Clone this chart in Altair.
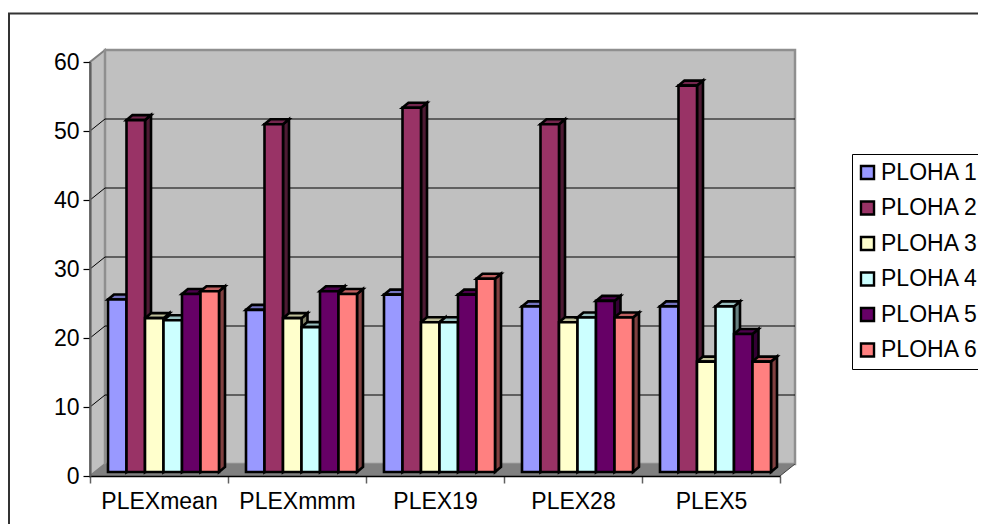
import altair as alt
import pandas as pd

categories = ["PLEXmean", "PLEXmmm", "PLEX19", "PLEX28", "PLEX5"]
series = ["PLOHA 1", "PLOHA 2", "PLOHA 3", "PLOHA 4", "PLOHA 5", "PLOHA 6"]
colors = ["#9999FF", "#993366", "#FFFFCC", "#CCFFFF", "#660066", "#FF8080"]
tops = ["#7373BF", "#73264D", "#BFBF99", "#99BFBF", "#4D004D", "#BF6060"]
sides = ["#4D4D80", "#4D1A33", "#808066", "#668080", "#330033", "#804040"]
values = {
    "PLOHA 1": [25.0, 23.5, 25.7, 24.0, 24.0],
    "PLOHA 2": [51.0, 50.4, 52.8, 50.4, 56.0],
    "PLOHA 3": [22.3, 22.3, 21.7, 21.7, 16.0],
    "PLOHA 4": [22.0, 21.0, 21.7, 22.4, 24.0],
    "PLOHA 5": [25.8, 26.2, 25.7, 24.8, 20.0],
    "PLOHA 6": [26.2, 25.8, 28.0, 22.4, 16.0],
}
y_ticks = [0, 10, 20, 30, 40, 50, 60]

PW, PH = 690, 414
ux, uy = 5 / PW, 60 / PH  # data units per pixel
wall_x, wall_y = 15 * ux, 12 * uy
bar_x0, bar_w, bar_base = 18 * ux, 18.5 * ux, 4 * uy
depth_x, depth_y = 6 * ux, 5 * uy

sx = alt.Scale(domain=[0, 5], nice=False, zero=False)
sy = alt.Scale(domain=[0, 60], nice=False, zero=False)

front, side, top = [], [], []
for s, name in enumerate(series):
    for c, cat in enumerate(categories):
        x0 = c + bar_x0 + s * bar_w
        x1 = x0 + bar_w
        v = values[name][c] + bar_base
        b = bar_base
        key = f"{s}-{c}"
        front.append(dict(series=name, x0=x0, x1=x1, v=v, b=b))
        side.append(dict(k=key, col=sides[s], x=x1, top=v, bot=b))
        side.append(dict(k=key, col=sides[s], x=x1 + depth_x, top=v + depth_y, bot=b + depth_y))
        top.append(dict(k=key, col=tops[s], y=v, xa=x0, xb=x1))
        top.append(dict(k=key, col=tops[s], y=v + depth_y, xa=x0 + depth_x, xb=x1 + depth_x))


def qx(f="x:Q"):
    return alt.X(f, scale=sx, title=None)


def qy(f="y:Q"):
    return alt.Y(f, scale=sy, title=None)


X, Y = qx(), qy()

# outer frame
frame = alt.Chart(pd.DataFrame({"a": [0]})).mark_rect(
    fill="white", stroke="#333333", strokeWidth=2
).encode(x=alt.value(-81), x2=alt.value(897.5), y=alt.value(-48.5), y2=alt.value(470))

# walls
left_wall = alt.Chart(pd.DataFrame({"x": [0, wall_x], "y": [0, wall_y], "y2": [60, 60 + wall_y]})).mark_area(
    fill="#C0C0C0", stroke="#808080", strokeWidth=2
).encode(x=X, y=Y, y2="y2:Q")
back = alt.Chart(pd.DataFrame({"x": [wall_x], "x2": [5 + wall_x], "y": [wall_y], "y2": [60 + wall_y]})).mark_rect(
    fill="#C0C0C0", stroke="#8F8F8F", strokeWidth=2.5
).encode(x=X, x2="x2:Q", y=Y, y2="y2:Q")
floor = alt.Chart(pd.DataFrame({"y": [0, wall_y], "x": [0, wall_x], "x2": [5, 5 + wall_x]})).mark_area(
    fill="#808080", orient="horizontal"
).encode(y=Y, x=X, x2="x2:Q")

# grid lines on back and left walls
grid_vals = y_ticks[1:-1]
grid_back = alt.Chart(pd.DataFrame({"y": [v + wall_y for v in grid_vals], "x": wall_x, "x2": 5 + wall_x})).mark_rule(
    color="black", strokeWidth=1.2
).encode(x=X, x2="x2:Q", y=Y)
grid_left = alt.Chart(pd.DataFrame({"y": grid_vals, "y2": [v + wall_y for v in grid_vals], "x": 0.0, "x2": wall_x})).mark_rule(
    color="black", strokeWidth=1
).encode(x=X, x2="x2:Q", y=Y, y2="y2:Q")
edge_right = alt.Chart(pd.DataFrame({"y": [0.0], "y2": [wall_y], "x": [5.0], "x2": [5 + wall_x]})).mark_rule(
    color="#404040", strokeWidth=1
).encode(x=X, x2="x2:Q", y=Y, y2="y2:Q")

# bars
side_layer = alt.Chart(pd.DataFrame(side)).mark_area(stroke="black", strokeWidth=2.6, strokeJoin="miter").encode(
    x=qx("x:Q"),
    y=qy("top:Q"),
    y2="bot:Q",
    fill=alt.Fill("col:N", scale=None),
    detail="k:N",
)
top_layer = alt.Chart(pd.DataFrame(top)).mark_area(stroke="black", strokeWidth=2.6, orient="horizontal", strokeJoin="miter").encode(
    y=qy("y:Q"),
    x=qx("xa:Q"),
    x2="xb:Q",
    fill=alt.Fill("col:N", scale=None),
    detail="k:N",
)
front_layer = alt.Chart(pd.DataFrame(front)).mark_rect(stroke="black", strokeWidth=2.6).encode(
    x=qx("x0:Q"),
    x2="x1:Q",
    y=qy("b:Q"),
    y2="v:Q",
    fill=alt.Fill(
        "series:N",
        scale=alt.Scale(domain=series, range=colors),
        legend=alt.Legend(
            title=None, orient="none", legendX=762, legendY=92, fillColor="white", strokeColor="#000000",
            padding=7, symbolType="square", symbolSize=170, symbolStrokeColor="black", symbolStrokeWidth=2.4,
            symbolOffset=-3, labelFont="Liberation Sans", labelFontSize=23, labelColor="black",
            rowPadding=11.5, labelOffset=2, labelLimit=200,
        ),
    ),
)

# axes
tick_vals = [i / 2 for i in range(11)]
label_js = "{" + ",".join(f"'{i + 0.5}':'{c}'" for i, c in enumerate(categories)) + "}"
axes = alt.Chart(pd.DataFrame({"x": [0.0, 5.0], "y": [0.0, 0.0]})).mark_point(opacity=0).encode(
    x=alt.X("x:Q", scale=sx, title=None, axis=alt.Axis(
        values=tick_vals, grid=False, domainColor="black", domainWidth=1.5, tickColor="#606060", tickWidth=1.5,
        tickSize=7, labelPadding=7, labelFont="Liberation Sans", labelFontSize=23, labelColor="black",
        labelFlush=False, labelOverlap=False, labelBound=False, zindex=1,
        tickOpacity={"condition": {"test": "datum.value % 1 === 0", "value": 1}, "value": 0},
        labelExpr=f"({label_js})[datum.value] || ''",
    )),
    y=alt.Y("y:Q", scale=sy, title=None, axis=alt.Axis(
        values=y_ticks, grid=False, domainColor="#606060", domainWidth=2.2, tickColor="black", tickWidth=1.2,
        tickSize=7, labelPadding=4, labelFont="Liberation Sans", labelFontSize=23, labelColor="black", zindex=1,
    )),
)

chart = alt.layer(
    frame, left_wall, back, floor, grid_left, grid_back, edge_right,
    side_layer, top_layer, front_layer, axes,
).properties(
    width=PW, height=PH,
    padding={"left": 82, "top": 54, "right": 198, "bottom": 48},
    autosize=alt.AutoSizeParams(type="none"),
).configure_view(stroke=None)

chart.save("out.html", embed_options={"renderer": "svg", "actions": False})
